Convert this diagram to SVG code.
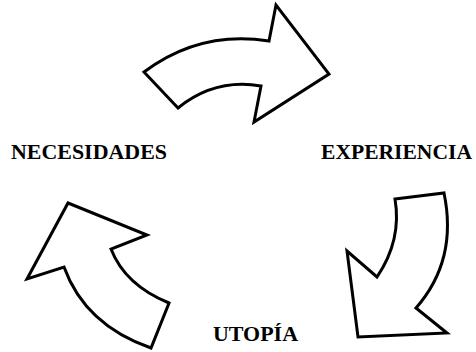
<svg xmlns="http://www.w3.org/2000/svg" width="476" height="352" viewBox="0 0 476 352">
<style>
.arr{fill:#fff;stroke:#000;stroke-width:3;stroke-linejoin:miter}
.lbl{font-family:"Liberation Serif","Times New Roman",serif;font-weight:bold;font-size:21px;fill:#000}
</style>
<rect width="476" height="352" fill="#fff"/>
<g id="connectors">
<path id="arrow-top" class="arr" d="M144,72 Q200,30 269,41 L276,5 L329,74 L254,122 L261,86 Q215,78 178,108 Z"/>
<path id="arrow-right" class="arr" d="M395,199 L444,193 Q458,260 416,308 L447,333 L358,337 L347,251 L377,277 Q402,240 395,199 Z"/>
<path id="arrow-left" class="arr" d="M169,303 Q125,285 111,249 L147,235 L68,203 L27,279 L64,267 Q85,325 151,348 Z"/>
</g>
<g id="node-necesidades"><text class="lbl" x="11" y="159" textLength="156" lengthAdjust="spacingAndGlyphs">NECESIDADES</text></g>
<g id="node-experiencia"><text class="lbl" x="321" y="159" textLength="151" lengthAdjust="spacingAndGlyphs">EXPERIENCIA</text></g>
<g id="node-utopia"><text class="lbl" x="213" y="341" textLength="85" lengthAdjust="spacingAndGlyphs">UTOPÍA</text></g>
</svg>
